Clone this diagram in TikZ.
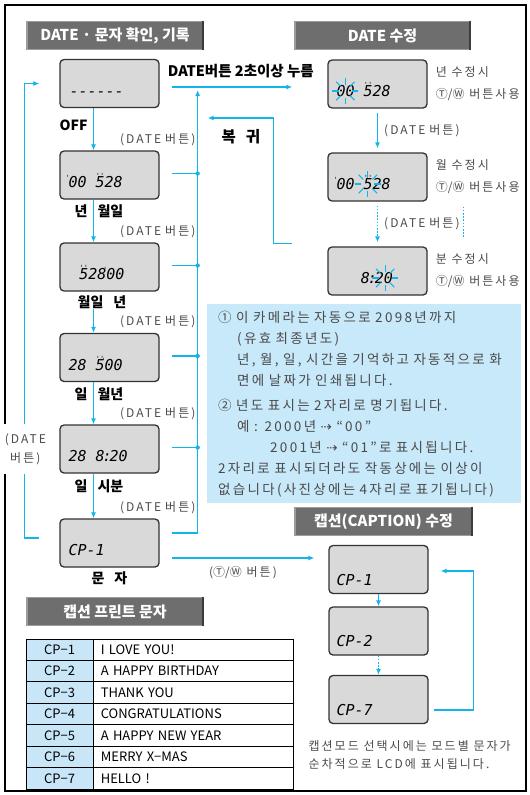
\documentclass[tikz,border=0pt]{standalone}
\usepackage{fontspec}
\setmainfont{Noto Sans CJK KR}
\newfontfamily\graykr[LetterSpace=17]{Noto Sans CJK KR}
\newfontfamily\lcdfont{DejaVu Sans Mono}
\newfontfamily\symfont{DejaVu Sans}
\usetikzlibrary{positioning,arrows.meta,calc}
\definecolor{flowblue}{HTML}{12B4EC}
\definecolor{lcdgray}{HTML}{D9D9D9}
\definecolor{lcdedge}{HTML}{333333}
\definecolor{bargray}{HTML}{6E6E6E}
\definecolor{baredge}{HTML}{9C9C9C}
\definecolor{bardark}{HTML}{3C3C3C}
\definecolor{notefill}{HTML}{C8E9FA}
\definecolor{notetext}{HTML}{4A4A4A}
\definecolor{cpfill}{HTML}{C8E6F8}
\newcommand{\mk}[1]{\ooalign{#1\cr\hidewidth\raisebox{0.6em}{\fontsize{7}{7}\selectfont''}\hidewidth\cr}}
\newcommand{\tk}{\llap{\raisebox{0.45em}{\fontsize{7}{7}\selectfont'}\kern-1pt}}
\newcommand{\twbtn}{{\rmfamily Ⓣ/Ⓦ}}

\begin{document}
\begin{tikzpicture}[x=1pt, y=-1pt,
    lcdbox/.style={draw=lcdedge, line width=1.3pt, fill=lcdgray, rounded corners=4pt, minimum width=99pt, minimum height=48pt, inner sep=0pt},
    lcdtext/.style={inner sep=0pt, text height=11pt, text depth=0pt, font=\lcdfont\itshape\fontsize{15}{15}\selectfont},
    titlebar/.style={fill=bargray, draw=baredge, line width=1.6pt, text=white, minimum height=28pt, inner sep=0pt, font=\fontsize{15}{17}\selectfont\bfseries},
    flow/.style={draw=flowblue, line width=1.4pt, -{Latex[length=6pt,width=5pt]}},
    link/.style={draw=flowblue, line width=1.4pt},
    dotflow/.style={flow, dash pattern=on 1.6pt off 1.6pt},
    dotline/.style={link, dash pattern=on 1.6pt off 1.6pt},
    blink/.style={draw=flowblue, line width=1.1pt},
    mlabel/.style={inner sep=0pt, font=\fontsize{14}{16}\selectfont\bfseries},
    blabel/.style={inner sep=0pt, text=notetext, font=\graykr\fontsize{12}{14}\selectfont},
    note/.style={fill=notefill, text=notetext, align=left, inner xsep=11pt, text width=292pt, font=\graykr\fontsize{13.5}{21}\selectfont},
    cpcell/.style={draw, line width=0.8pt, fill=cpfill, minimum width=67pt, minimum height=21.43pt, inner sep=0pt, font=\fontsize{13}{15}\selectfont},
    txtcell/.style={draw, line width=0.8pt, minimum height=21.43pt, inner xsep=7pt, inner ysep=0pt, text width=186pt, align=left, font=\fontsize{13}{15}\selectfont},
]
\useasboundingbox (0,0) rectangle (530,795);
\draw[line width=1.8pt] (5,5) rectangle (526,791);

\node[titlebar, minimum width=176pt] (T1) at (115,35.5) {DATE · 문자 확인, 기록};
\node[titlebar, minimum width=175pt] (T2) at (382.5,35.5) {DATE 수정};
\node[titlebar, minimum width=177pt] (T3) at (383.5,521.5) {캡션(CAPTION) 수정};
\node[titlebar, minimum width=176pt] (T4) at (115,611.5) {캡션 프린트 문자};
\foreach \t in {T1,T2,T3,T4}
  \draw[bardark, line width=2.2pt] ([xshift=-1pt]\t.north east) -- ([xshift=-1pt]\t.south east);

\node[lcdbox] (OFF) at (109.5,83.5) {};
\node[lcdbox] (YMD) at (109.5,175) {};
\node[lcdbox] (MDY) at (109.5,267) {};
\node[lcdbox] (DMY) at (109.5,357.5) {};
\node[lcdbox] (DHM) at (109.5,449) {};
\node[lcdbox] (CAP) at (109.5,543) {};

\node[lcdtext, anchor=west] (OFFt) at ([xshift=10pt,yshift=-7pt]OFF.west) {------};
\node[lcdtext, anchor=west] (YMDt) at ([xshift=9pt,yshift=-7pt]YMD.west) {\tk00 \mk{5}28};
\node[lcdtext, anchor=east] (MDYt) at ([xshift=-35pt,yshift=-7pt]MDY.east) {\mk{5}28\tk00};
\node[lcdtext, anchor=west] (DMYt) at ([xshift=9pt,yshift=-7pt]DMY.west) {28 \mk{5}\tk00};
\node[lcdtext, anchor=west] (DHMt) at ([xshift=9pt,yshift=-7pt]DHM.west) {28 8\kern-2pt:\kern-2pt20};
\node[lcdtext, anchor=west] (CAPt) at ([xshift=9pt,yshift=-7pt]CAP.west) {CP-1};

\node[mlabel, anchor=west] (OFFl) at ([yshift=-17pt]OFF.south west) {OFF};
\node[mlabel] (YMDl) at ([xshift=-10.5pt,yshift=-12pt]YMD.south) {년\hspace{10pt}월일};
\node[mlabel] (MDYl) at ([xshift=-7.5pt,yshift=-11pt]MDY.south) {월일\hspace{10pt}년};
\node[mlabel] (DMYl) at ([xshift=-10.5pt,yshift=-12.5pt]DMY.south) {일\hspace{10pt}월년};
\node[mlabel] (DHMl) at ([xshift=-10.5pt,yshift=-13pt]DHM.south) {일\hspace{10pt}시분};
\node[mlabel] (CAPl) at ([yshift=-11pt]CAP.south) {문\hspace{10pt}자};

\foreach \a/\b in {OFF/YMD,YMD/MDY,DMY/DHM,DHM/CAP}
  \draw[flow] ([xshift=-16pt]\a.south) -- ([xshift=-16pt]\b.north);
\draw[flow] ([xshift=-16pt]DMY.north |- MDYl.south) -- ([xshift=-16pt]DMY.north);

\foreach \b in {YMD,MDY,DMY,DHM,CAP}
  \node[blabel, anchor=east] (\b-btn) at ([xshift=36pt,yshift=11pt]\b.north east) {(DATE\hspace{4pt}버튼)};

\node[lcdbox] (EY) at (377.5,84) {};
\node[lcdbox] (EM) at (377.5,177) {};
\node[lcdbox] (EH) at (377.5,271) {};

\node[lcdtext, anchor=west] (EYt) at ([xshift=9pt,yshift=-7pt]EY.west) {00 \mk{5}28};
\node[lcdtext, anchor=west] (EMt) at ([xshift=9pt,yshift=-7pt]EM.west) {\tk00 \mk{5}28};
\node[lcdtext, anchor=east] (EHt) at ([xshift=-34.5pt,yshift=-7pt]EH.east) {8\kern-2pt:\kern-2pt20};

\coordinate (bY) at ([xshift=9pt]EYt.west);
\coordinate (bM) at ([xshift=31.5pt]EMt.west);
\coordinate (bH) at ([xshift=-8pt]EHt.east);
\foreach \c in {bY,bM,bH}
  \foreach \a in {0,45,...,315}
    \draw[blink] ($(\c)+(\a:6.5)$) -- ($(\c)+(\a:13)$);

\node[blabel, anchor=west, align=left, font=\graykr\fontsize{12}{22}\selectfont] (EYl) at ([xshift=8pt]EY.east) {년 수정시\\\twbtn\ 버튼사용};
\node[blabel, anchor=west, align=left, font=\graykr\fontsize{12}{22}\selectfont] (EMl) at ([xshift=8pt]EM.east) {월 수정시\\\twbtn\ 버튼사용};
\node[blabel, anchor=west, align=left, font=\graykr\fontsize{12}{22}\selectfont] (EHl) at ([xshift=8pt]EH.east) {분 수정시\\\twbtn\ 버튼사용};

\draw[flow] ([yshift=-4pt]EY.south) -- node[blabel, right=6pt] {(DATE\hspace{4pt}버튼)} ([yshift=4pt]EM.north);
\draw[dotflow] ([yshift=-4pt]EM.south) -- node[blabel, right=6pt] {(DATE\hspace{4pt}버튼)} ([yshift=4pt]EH.north);
\draw[dotline] ([xshift=36pt,yshift=-5pt]EM.south east) -- ([xshift=36pt,yshift=8pt]EH.north east);

\coordinate (ret) at ([xshift=38pt,yshift=-6.5pt]OFF.east);
\draw[flow] ([xshift=12pt,yshift=-3.5pt]OFF.east) -- ([xshift=-35pt,yshift=-3pt]EY.west);
\node[mlabel, anchor=west, font=\fontsize{14.5}{16}\selectfont\bfseries] (HOLD) at ([xshift=8pt,yshift=-12pt]OFF.north east) {DATE버튼 2초이상 누름};
\draw[flow] ([xshift=12pt,yshift=10pt]CAP.east) -| (ret);
\foreach \b in {YMD,MDY,DMY,DHM} {
  \draw[link] ([xshift=12pt,yshift=1.5pt]\b.east) -- ([yshift=1.5pt]\b.east -| ret);
  \fill[flowblue] ([yshift=1.5pt]\b.east -| ret) circle (2.2pt);
}

\draw[flow] ([xshift=-20pt,yshift=5pt]CAP.west) -- ++(-15,0) |- ([xshift=-20pt]OFF.west);
\node[blabel, fill=white, align=center, inner xsep=1pt, inner ysep=9pt, font=\graykr\fontsize{12}{19}\selectfont] (LOOP) at ([xshift=-34pt]DHM.west) {(DATE\\버튼)};

\coordinate (bk) at ([xshift=-35pt,yshift=3pt]EH.north west);
\draw[flow] (bk) -| ([xshift=-54pt,yshift=-34pt]EY.west) -- ([xshift=48pt,yshift=-34.5pt]OFF.east);
\node[mlabel, font=\fontsize{15.5}{17}\selectfont\bfseries] (BACK) at (241,137) {복\hspace{10pt}귀};

\node[note, anchor=north west, minimum width=314pt, minimum height=199pt] (INFO) at (207,304) {%
① 이 카메라는 자동으로 2098년까지\\
\hspace*{19pt}(유효 최종년도)\\
\hspace*{19pt}년, 월, 일, 시간을 기억하고 자동적으로 화\\
\hspace*{19pt}면에 날짜가 인쇄됩니다.\\[4pt]
② 년도 표시는 2자리로 명기됩니다.\\
\hspace*{19pt}예 : 2000년 {\symfont ⇢} “00”\\
\hspace*{52pt}2001년 {\symfont ⇢} “01”로 표시됩니다.\\
2자리로 표시되더라도 작동상에는 이상이\\
없습니다(사진상에는 4자리로 표기됩니다)};

\node[lcdbox] (C1) at (378.5,569.5) {};
\node[lcdbox] (C2) at (378.5,631) {};
\node[lcdbox] (C7) at (378.5,699.5) {};
\node[lcdtext, anchor=west] (C1t) at ([xshift=8pt,yshift=-10pt]C1.west) {CP-1};
\node[lcdtext, anchor=west] (C2t) at ([xshift=8pt,yshift=-10pt]C2.west) {CP-2};
\node[lcdtext, anchor=west] (C7t) at ([xshift=8pt,yshift=-10pt]C7.west) {CP-7};

\draw[flow] (C1) -- (C2);
\draw[dotflow] (C2) -- (C7);
\draw[flow] ([xshift=5pt,yshift=-10.5pt]C7.east) -- ++(40,0) |- ([xshift=12pt,yshift=-1.5pt]C1.east);

\coordinate (capst) at ([xshift=12pt,yshift=-15pt]CAP.east);
\coordinate (capend) at ([xshift=-14pt]C1.west);
\draw[flow] (capst) -- node[blabel, below=8pt] {(\twbtn\ 버튼)} (capst -| capend);

\node[blabel, anchor=north west, align=left, font=\graykr\fontsize{12}{18}\selectfont] (CAPNOTE) at ([xshift=-20pt,yshift=-16pt]C7.south west) {캡션모드 선택시에는 모드별 문자가\\순차적으로 LCD에 표시됩니다.};

\foreach \txt [count=\i] in {I LOVE YOU!,A HAPPY BIRTHDAY,THANK YOU,CONGRATULATIONS,A HAPPY NEW YEAR,MERRY X−MAS,HELLO !} {
  \node[cpcell] (cp\i) at (59.5,{639+(\i-0.5)*21.43}) {CP−\i};
  \node[txtcell, anchor=west] (tx\i) at (cp\i.east) {\txt};
}
\end{tikzpicture}
\end{document}
